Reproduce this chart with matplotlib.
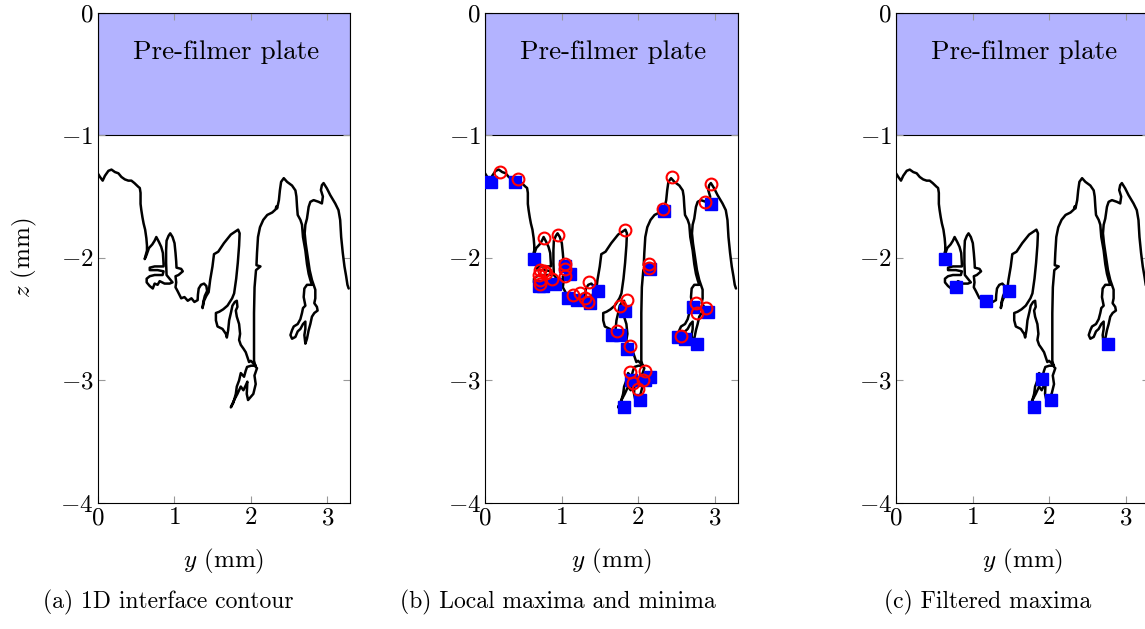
import matplotlib
matplotlib.use("Agg")
import matplotlib.pyplot as plt
from matplotlib.patches import Rectangle

plt.rcParams["font.family"] = "serif"
plt.rcParams["font.serif"] = ["cmr10"]
plt.rcParams["mathtext.fontset"] = "cm"
plt.rcParams["axes.formatter.use_mathtext"] = True
plt.rcParams["font.size"] = 18

# interface contour (y, z) in mm
contour_y = [0.00, 0.03, 0.065, 0.095, 0.14, 0.18, 0.225, 0.27, 0.31, 0.355, 0.40, 0.44, 0.48, 0.53,
             0.55, 0.56, 0.56, 0.57, 0.585, 0.60, 0.62, 0.636, 0.644, 0.644, 0.627, 0.614,
             0.636, 0.67, 0.714, 0.744, 0.766, 0.80, 0.83, 0.852, 0.861, 0.861,
             0.80, 0.744, 0.68, 0.68, 0.783, 0.861, 0.848, 0.744, 0.68, 0.64, 0.64, 0.68, 0.72,
             0.744, 0.783, 0.81, 0.874, 0.94, 0.978,
             0.90, 0.894, 0.894, 0.90, 0.926, 0.948, 0.978, 1.004, 1.017, 1.026, 1.03, 1.091, 1.112,
             1.056, 1.017, 1.026, 1.017, 1.043, 1.091, 1.134, 1.177, 1.225, 1.264, 1.306,
             1.31, 1.32, 1.35, 1.39, 1.42, 1.43, 1.40, 1.38, 1.37, 1.39, 1.42, 1.45, 1.47, 1.50, 1.52,
             1.575, 1.65, 1.74, 1.81, 1.835, 1.855, 1.848, 1.831, 1.81, 1.783, 1.757, 1.696,
             1.64, 1.588, 1.545, 1.545, 1.566, 1.631, 1.675, 1.688, 1.705, 1.718, 1.744, 1.761,
             1.792, 1.818, 1.826, 1.805, 1.818, 1.848, 1.861, 1.848, 1.87, 1.904, 1.935, 1.956,
             1.978, 2.00, 2.034, 2.065,
             2.004, 1.952, 1.935, 1.913, 1.87, 1.848, 1.818, 1.805, 1.774, 1.74, 1.783, 1.826,
             1.87, 1.904, 1.935, 1.956, 1.948, 1.965, 2.00, 2.034, 2.065, 2.049, 2.082, 2.065,
             2.043, 2.043, 2.043, 2.043, 2.05, 2.069, 2.127, 2.075, 2.082, 2.095, 2.121, 2.164,
             2.216, 2.281, 2.325, 2.335, 2.345, 2.368, 2.381, 2.397, 2.432, 2.475, 2.54, 2.584,
             2.597, 2.605, 2.614, 2.649, 2.67, 2.683, 2.714, 2.735, 2.757, 2.779, 2.80,
             2.735, 2.701, 2.692, 2.714, 2.683, 2.67, 2.649, 2.614, 2.562, 2.54, 2.519, 2.54,
             2.584, 2.614, 2.649, 2.683, 2.714, 2.714, 2.701, 2.714, 2.735, 2.757, 2.779, 2.80,
             2.831, 2.874, 2.865, 2.831, 2.844, 2.844, 2.822,
             2.80, 2.77, 2.744, 2.718, 2.705, 2.714, 2.735, 2.757, 2.779, 2.822, 2.887, 2.93,
             2.943, 2.917, 2.93, 2.952, 2.995, 3.039, 3.104, 3.147, 3.169, 3.182, 3.203, 3.225,
             3.247, 3.264, 3.28]
contour_z = [-1.31, -1.34, -1.37, -1.33, -1.29, -1.28, -1.30, -1.31, -1.34, -1.36, -1.37, -1.37, -1.39, -1.42,
             -1.43, -1.47, -1.56, -1.61, -1.67, -1.72, -1.77, -1.84, -1.90, -1.94, -1.98, -2.01,
             -1.98, -1.92, -1.89, -1.86, -1.83, -1.87, -1.91, -1.96, -2.05, -2.07,
             -2.07, -2.07, -2.08, -2.10, -2.10, -2.11, -2.14, -2.14, -2.15, -2.17, -2.20, -2.23, -2.25,
             -2.21, -2.22, -2.19, -2.21, -2.21, -2.20,
             -2.14, -2.04, -1.94, -1.86, -1.82, -1.80, -1.83, -1.88, -1.96, -2.03, -2.08, -2.09, -2.11,
             -2.14, -2.15, -2.20, -2.24, -2.27, -2.33, -2.32, -2.35, -2.33, -2.36, -2.345,
             -2.30, -2.25, -2.22, -2.21, -2.23, -2.27, -2.31, -2.36, -2.41, -2.35, -2.31, -2.28, -2.18, -2.07, -1.97,
             -1.95, -1.88, -1.81, -1.78, -1.77, -1.80, -1.90, -2.04, -2.17, -2.29, -2.33, -2.39,
             -2.42, -2.44, -2.45, -2.51, -2.56, -2.58, -2.62, -2.65, -2.59, -2.51, -2.44, -2.39,
             -2.36, -2.35, -2.40, -2.43, -2.48, -2.54, -2.62, -2.67, -2.71, -2.74, -2.77, -2.81,
             -2.85, -2.84, -2.86, -2.88,
             -2.88, -2.89, -2.92, -2.97, -2.94, -3.00, -3.05, -3.11, -3.18, -3.22, -3.16, -3.11,
             -3.05, -3.08, -3.04, -3.01, -3.11, -3.16, -3.135, -3.11, -3.03, -2.96, -2.90, -2.89,
             -2.84, -2.78, -2.67, -2.45, -2.24, -2.10, -2.07, -2.06, -1.96, -1.83, -1.75, -1.69,
             -1.65, -1.63, -1.605, -1.58, -1.597, -1.53, -1.45, -1.38, -1.35, -1.38, -1.41, -1.45,
             -1.50, -1.58, -1.65, -1.69, -1.73, -1.83, -1.94, -2.05, -2.13, -2.18, -2.22,
             -2.22, -2.25, -2.32, -2.39, -2.41, -2.45, -2.50, -2.54, -2.56, -2.59, -2.63, -2.66,
             -2.645, -2.60, -2.58, -2.54, -2.52, -2.58, -2.63, -2.70, -2.66, -2.59, -2.54, -2.48,
             -2.45, -2.43, -2.40, -2.37, -2.33, -2.26, -2.22,
             -2.18, -2.10, -1.99, -1.88, -1.80, -1.73, -1.68, -1.584, -1.543, -1.529, -1.543, -1.556,
             -1.50, -1.447, -1.407, -1.39, -1.433, -1.488, -1.556, -1.611, -1.692, -1.83, -1.96, -2.07,
             -2.15, -2.22, -2.25]

# local maxima (red circles) and minima (blue squares)
maxima_y = [0.19, 0.435, 0.77, 0.95, 0.72, 0.77, 0.80, 0.70, 0.72, 0.72, 0.88, 1.04, 1.04, 1.04,
            1.155, 1.24, 1.31, 1.35, 1.36, 1.83, 1.85, 1.77, 1.72, 1.90, 1.89, 2.09, 1.94, 2.00,
            2.07, 2.14, 2.14, 2.32, 2.45, 2.88, 2.96, 2.76, 2.77, 2.89, 2.56]
maxima_z = [-1.30, -1.36, -1.84, -1.81, -2.10, -2.11, -2.12, -2.14, -2.18, -2.21, -2.17, -2.05, -2.09, -2.15,
            -2.30, -2.29, -2.33, -2.36, -2.20, -1.77, -2.34, -2.39, -2.60, -2.72, -2.93, -2.92, -3.025, -3.066,
            -3.00, -2.05, -2.08, -1.605, -1.344, -1.543, -1.398, -2.37, -2.45, -2.41, -2.635]
minima_y = [0.075, 0.39, 0.64, 0.70, 0.76, 0.92, 1.05, 1.11, 1.08, 1.20, 1.37, 1.48, 1.83, 1.66,
            1.77, 1.85, 1.91, 2.09, 2.15, 2.03, 1.82, 2.15, 2.34, 2.96, 2.72, 2.92, 2.52, 2.62, 2.77]
minima_z = [-1.38, -1.38, -2.01, -2.23, -2.23, -2.21, -2.07, -2.13, -2.33, -2.345, -2.37, -2.27, -2.43, -2.63,
            -2.63, -2.74, -3.00, -3.00, -2.97, -3.16, -3.22, -2.09, -1.62, -1.56, -2.40, -2.44, -2.645, -2.66, -2.70]

# filtered maxima
filtered_y = [0.64, 0.78, 1.18, 1.48, 1.91, 1.81, 2.03, 2.77]
filtered_z = [-2.01, -2.24, -2.35, -2.27, -2.985, -3.216, -3.16, -2.70]

captions = ["(a) 1D interface contour", "(b) Local maxima and minima", "(c) Filtered maxima"]
caption_x = [0.279, 0.289, 0.364]

W, H = 1145, 629
fig = plt.figure(figsize=(W / 100, H / 100), dpi=100)
lefts = [97.7, 485, 896]
axes = [fig.add_axes([l / W, 1 - 503 / H, 252.5 / W, 490.3 / H]) for l in lefts]

for i, ax in enumerate(axes):
    ax.add_patch(Rectangle((0, -1), 3.3, 1, facecolor="#b3b3ff", edgecolor="black", lw=0.8, zorder=1))
    ax.text(1.68, -0.32, "Pre-filmer plate", ha="center", va="center", fontsize=19.5)
    ax.plot(contour_y, contour_z, color="black", lw=1.8, zorder=2,
            solid_joinstyle="round", solid_capstyle="round")
    ax.set_xlim(0, 3.3)
    ax.set_ylim(-4, 0)
    ax.set_xticks([0, 1, 2, 3])
    ax.set_yticks([-4, -3, -2, -1, 0])
    ax.tick_params(direction="in", length=5, width=0.8, color="#999999",
                   top=True, right=True, labelsize=18, pad=3)
    ax.set_xlabel(r"$y$ (mm)", fontsize=18, labelpad=13)
    ax.text(caption_x[i], -0.202, captions[i], transform=ax.transAxes,
            ha="center", va="center", fontsize=17)

axes[0].set_ylabel(r"$z$ (mm)", fontsize=18, labelpad=15)

axes[1].plot(minima_y, minima_z, "s", color="blue", ms=8.5, mec="blue", zorder=3)
axes[1].plot(maxima_y, maxima_z, "o", mfc="none", mec="red", ms=8.5, mew=1.5, zorder=4)
axes[2].plot(filtered_y, filtered_z, "s", color="blue", ms=8.5, mec="blue", zorder=3)

fig.savefig("out.png", dpi=100)
